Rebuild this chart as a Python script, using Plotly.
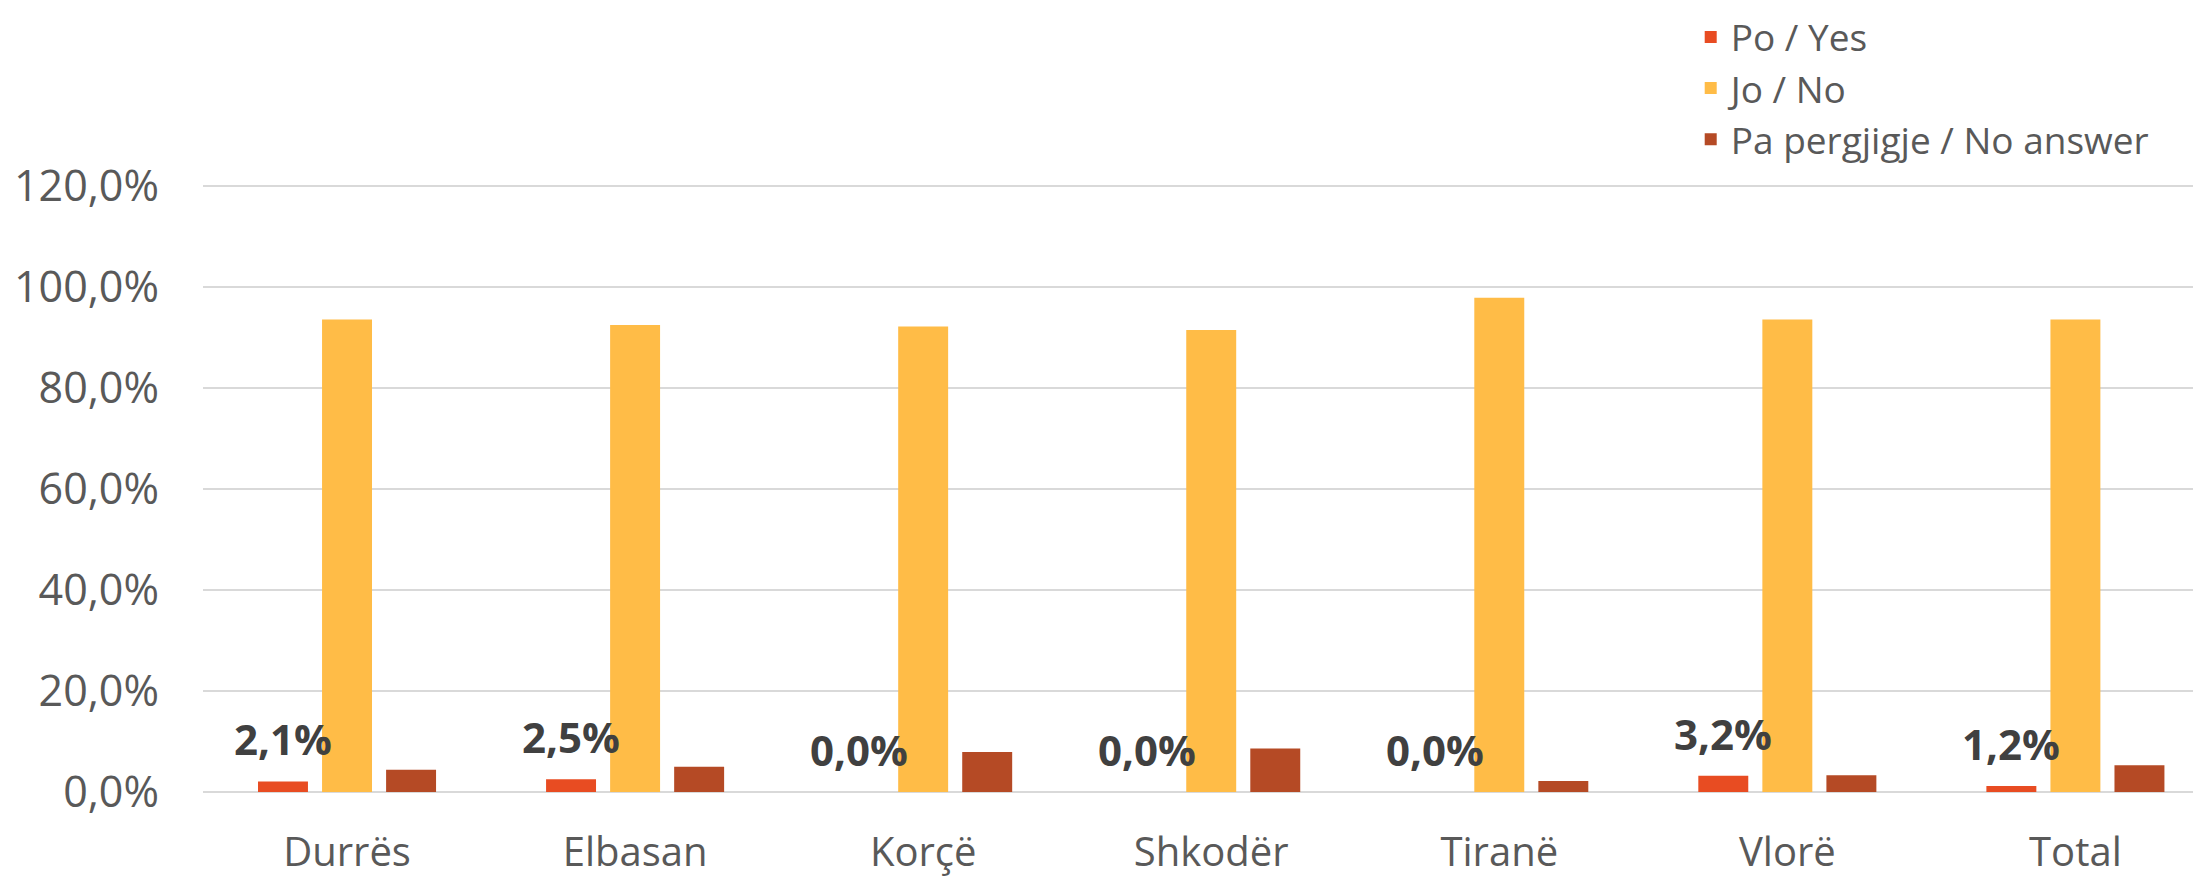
import plotly.graph_objects as go

categories = ["Durrës", "Elbasan", "Korçë", "Shkodër", "Tiranë", "Vlorë", "Total"]
yes_vals = [0.021, 0.025, 0.0, 0.0, 0.0, 0.032, 0.012]
no_vals = [0.935, 0.924, 0.921, 0.914, 0.978, 0.935, 0.935]
na_vals = [0.044, 0.050, 0.079, 0.086, 0.022, 0.033, 0.053]
series_names = ["Po / Yes", "Jo / No", "Pa pergjigje / No answer"]
colors = ["#E84C22", "#FFBC47", "#B54A25"]

fig = go.Figure()
for i, (name, vals) in enumerate(zip(series_names, [yes_vals, no_vals, na_vals])):
    fig.add_trace(go.Bar(
        x=categories, y=vals, name=name, marker_color=colors[i],
        marker_line_width=0, legendgroup=name, hoverinfo="skip",
    ))

for cat, v in zip(categories, yes_vals):
    fig.add_annotation(
        x=cat, y=v, xref="x", yref="y",
        text=f"{v*100:.1f}%".replace(".", ","),
        showarrow=False, yanchor="bottom", xanchor="center",
        xshift=-64, yshift=12,
        font=dict(family="Open Sans", size=42, color="#404040", weight="bold"),
    )

fig.update_layout(
    width=2201, height=876,
    margin=dict(l=195, r=8, t=175.5, b=92, autoexpand=False),
    paper_bgcolor="white", plot_bgcolor="white",
    barmode="group", bargap=0.333, bargroupgap=0.22,
    separators=",.",
    font=dict(family="Open Sans", color="#595959"),
    showlegend=True,
    legend=dict(
        x=0.7446, y=1.292, xanchor="left", yanchor="top", yref="paper",
        font=dict(family="Open Sans", size=37, color="#595959"),
        traceorder="grouped", tracegroupgap=0,
        bgcolor="rgba(0,0,0,0)",
    ),
    xaxis=dict(
        range=[-0.5, 6.436], showgrid=False, showline=False, zeroline=False,
        ticks="", tickfont=dict(family="Open Sans", size=40, color="#595959"),
        ticklabelstandoff=33, automargin=False,
    ),
    yaxis=dict(
        range=[0, 1.203], dtick=0.2, tickformat=".1%",
        showgrid=True, gridcolor="#D9D9D9", gridwidth=2,
        zeroline=True, zerolinecolor="#D9D9D9", zerolinewidth=2,
        showline=False, ticks="",
        tickfont=dict(family="Open Sans", size=43, color="#595959"),
        ticklabelstandoff=43, automargin=False,
    ),
)

fig.write_html("out.html")
